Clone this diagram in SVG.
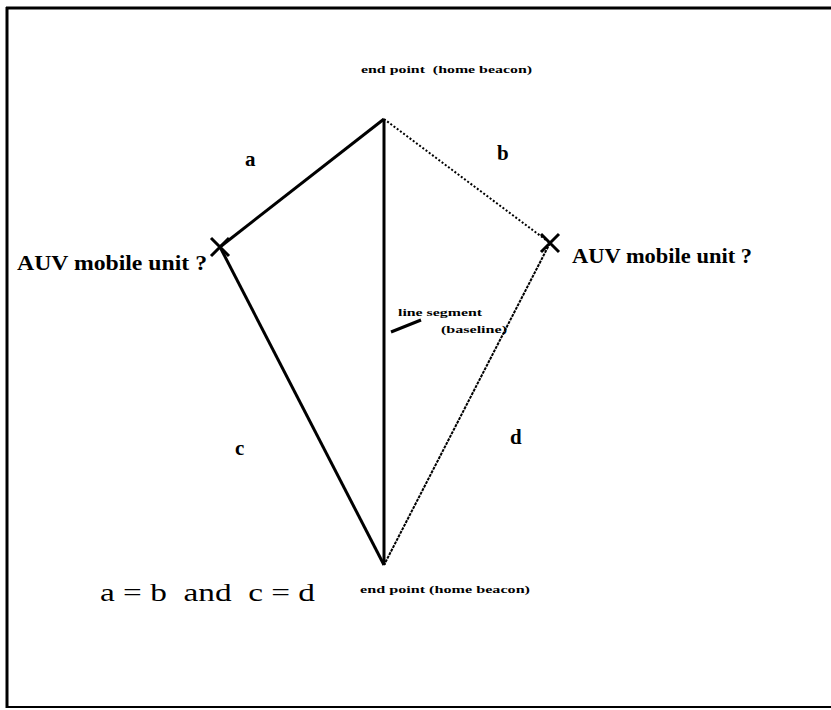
<svg xmlns="http://www.w3.org/2000/svg" width="831" height="710" viewBox="0 0 831 710" font-family="'Liberation Serif', 'DejaVu Serif', serif">
<style>
.t{fill:#000}
.b{font-weight:bold}
.s{font-size:11px}
.m{font-size:20px}
.l{font-size:21px}
.solid{stroke:#000;stroke-width:3;fill:none}
.dot{stroke:#000;stroke-width:2;fill:none;stroke-dasharray:2 2}
.fine{stroke:#000;stroke-width:2;fill:none;stroke-dasharray:3 1}
</style>
<rect x="0" y="0" width="831" height="710" fill="#fff"/>
<g id="frame">
<line x1="6" y1="8" x2="831" y2="8" stroke="#000" stroke-width="3"/>
<line x1="7" y1="7" x2="7" y2="708" stroke="#000" stroke-width="3"/>
<line x1="6" y1="707" x2="831" y2="707" stroke="#000" stroke-width="2"/>
</g>
<g id="connectors">
<line class="solid" x1="384" y1="119" x2="220" y2="247"/>
<line class="dot" x1="384" y1="119" x2="550" y2="243"/>
<line class="solid" x1="220" y1="247" x2="384" y2="565"/>
<line class="fine" x1="550" y1="243" x2="384" y2="565"/>
<line class="solid" x1="384" y1="119" x2="384" y2="565"/>
<line class="solid" x1="391" y1="332" x2="421" y2="320"/>
</g>
<g id="top-beacon">
<text class="t b s" x="361" y="73" textLength="171" lengthAdjust="spacingAndGlyphs" xml:space="preserve">end point  (home beacon)</text>
</g>
<g id="left-auv">
<path d="M211 238 L229 256 M229 238 L211 256" stroke="#000" stroke-width="3"/>
<text class="t b m" x="17" y="270" textLength="190" lengthAdjust="spacingAndGlyphs">AUV mobile unit ?</text>
</g>
<g id="right-auv">
<path d="M541 234 L559 252 M559 234 L541 252" stroke="#000" stroke-width="3"/>
<text class="t b m" x="572" y="263" textLength="180" lengthAdjust="spacingAndGlyphs">AUV mobile unit ?</text>
</g>
<g id="baseline-label">
<text class="t b s" x="398" y="316" textLength="84" lengthAdjust="spacingAndGlyphs">line segment</text>
<text class="t b s" x="441" y="333" textLength="66" lengthAdjust="spacingAndGlyphs">(baseline)</text>
</g>
<g id="bottom-beacon">
<text class="t b s" x="360" y="593" textLength="170" lengthAdjust="spacingAndGlyphs">end point (home beacon)</text>
</g>
<g id="labels">
<text class="t b l" x="245" y="166">a</text>
<text class="t b l" x="497" y="160">b</text>
<text class="t b l" x="235" y="455">c</text>
<text class="t b l" x="510" y="444">d</text>
<text class="t" x="100" y="601" font-size="25" textLength="215" lengthAdjust="spacingAndGlyphs" xml:space="preserve">a = b  and  c = d</text>
</g>
</svg>
